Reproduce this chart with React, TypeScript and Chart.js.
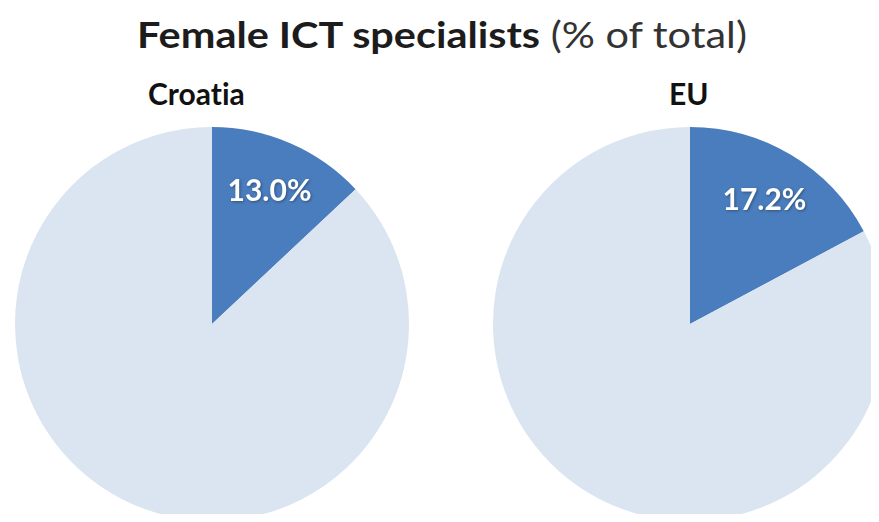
import React, { useEffect, useRef } from "react";
import { Chart, registerables } from "chart.js";

Chart.register(...registerables);

const sliceLabels = ["Female", "Male"];
const croatiaValues = [13.0, 87.0];
const euValues = [17.2, 82.8];
const panelTitles = ["Croatia", "EU"];
const sliceColors = ["#4a7dbd", "#dbe5f1"];

const labelPlugin = {
  id: "sliceLabel",
  afterDatasetsDraw(chart: any) {
    const meta = chart.getDatasetMeta(0);
    const arc = meta.data[0];
    if (!arc) return;
    const p = arc.getProps(["x", "y", "startAngle", "endAngle", "outerRadius"], true);
    const mid = (p.startAngle + p.endAngle) / 2;
    const r = p.outerRadius * 0.735;
    const x = p.x + Math.cos(mid) * r;
    const y = p.y + Math.sin(mid) * r;
    const v = chart.data.datasets[0].data[0] as number;
    const ctx = chart.ctx;
    ctx.save();
    ctx.font = "bold 30px Lato";
    ctx.fillStyle = "#ffffff";
    ctx.textAlign = "center";
    ctx.textBaseline = "middle";
    ctx.shadowColor = "rgba(0,0,0,0.35)";
    ctx.shadowBlur = 3;
    ctx.shadowOffsetX = 1;
    ctx.shadowOffsetY = 1;
    ctx.fillText(v.toFixed(1) + "%", x, y);
    ctx.restore();
  },
};

function PieCanvas({ values, left }: { values: number[]; left: number }) {
  const ref = useRef<HTMLCanvasElement>(null);
  useEffect(() => {
    if (!ref.current) return;
    const chart = new Chart(ref.current, {
      type: "pie",
      data: {
        labels: sliceLabels,
        datasets: [
          {
            data: values,
            backgroundColor: sliceColors,
            borderWidth: 0,
          },
        ],
      },
      options: {
        responsive: false,
        animation: false,
        layout: { padding: 0 },
        plugins: {
          legend: { display: false },
          tooltip: { enabled: false },
          title: { display: false },
        },
      },
      plugins: [labelPlugin],
    });
    return () => chart.destroy();
  }, [values]);
  return (
    <canvas
      ref={ref}
      width={394}
      height={394}
      style={{ position: "absolute", left, top: 127, width: 394, height: 394 }}
    />
  );
}

export default function App() {
  return (
    <div
      style={{
        position: "relative",
        margin: -8,
        width: 879,
        height: 522,
        overflow: "hidden",
        background: "#ffffff",
        fontFamily: "Lato, sans-serif",
        fontVariantLigatures: "none",
      }}
    >
      <div
        style={{
          position: "absolute",
          left: 0,
          top: 13,
          width: 884,
          textAlign: "center",
          fontSize: 36,
          lineHeight: "42px",
          color: "#1c1c1c",
          whiteSpace: "nowrap",
          transform: "scaleX(1.15)",
          transformOrigin: "442px 0",
        }}
      >
        <span style={{ fontWeight: 700 }}>Female ICT specialists</span>
        <span style={{ fontWeight: 400, color: "#333" }}> (% of total)</span>
      </div>
      <div
        style={{
          position: "absolute",
          left: 148,
          top: 76,
          fontSize: 30,
          lineHeight: "34px",
          fontWeight: 700,
          color: "#111",
        }}
      >
        {panelTitles[0]}
      </div>
      <div
        style={{
          position: "absolute",
          left: 669,
          top: 76,
          fontSize: 30,
          lineHeight: "34px",
          fontWeight: 700,
          color: "#111",
        }}
      >
        {panelTitles[1]}
      </div>
      <PieCanvas values={croatiaValues} left={15} />
      <PieCanvas values={euValues} left={493} />
    </div>
  );
}
